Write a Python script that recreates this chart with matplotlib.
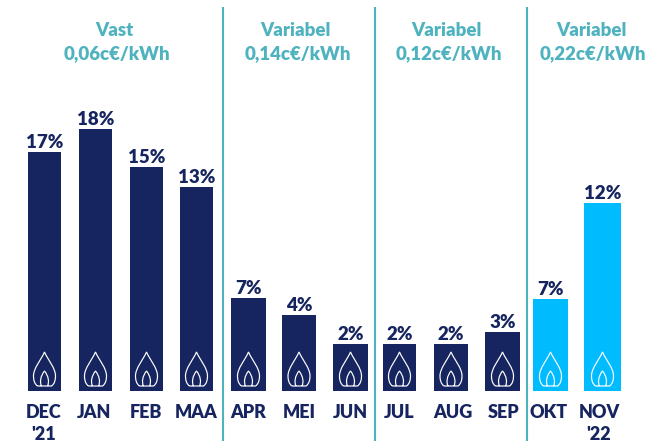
import matplotlib
matplotlib.use("Agg")
import matplotlib.pyplot as plt
from matplotlib.path import Path
from matplotlib.patches import PathPatch

months = ["DEC", "JAN", "FEB", "MAA", "APR", "MEI", "JUN", "JUL", "AUG", "SEP", "OKT", "NOV"]
years = {"DEC": "'21", "NOV": "'22"}
labels = ["17%", "18%", "15%", "13%", "7%", "4%", "2%", "2%", "2%", "3%", "7%", "12%"]
# bar heights as drawn (not proportional to the printed labels)
heights = [239, 262, 224, 204, 93, 76, 47, 47, 47, 59, 92, 188]
is_forecast = [False] * 10 + [True] * 2

tariff_types = ["Vast", "Variabel", "Variabel", "Variabel"]
tariff_prices = ["0,06c€/kWh", "0,14c€/kWh", "0,12c€/kWh", "0,22c€/kWh"]

# layout, in pixels of the picture
W, H = 659, 441
BASE = 391
bar_left = [28, 79, 130, 180, 231, 282, 333, 383, 434, 485, 533, 584]
bar_right = [61, 112, 163, 213, 266, 316, 368, 416, 468, 520, 568, 621]
tick_x = [44, 94.5, 146, 196.5, 248.5, 299.5, 350.5, 399.5, 453, 504, 549, 599]
type_x = [114.5, 295, 446, 591]
price_x = [117, 298, 449, 593]
dividers = [222.5, 374.5, 526.5]

NAVY = "#16255F"
CYAN = "#00BCFF"
TEAL = "#4FB3BF"

plt.rcParams["font.family"] = ["Lato", "DejaVu Sans"]

fig = plt.figure(figsize=(W / 100, H / 100), dpi=100)
ax = fig.add_axes([0, 0, 1, 1])
ax.set_xlim(0, W)
ax.set_ylim(BASE - H, BASE)
ax.axis("off")


def flame(cx):
    # little gas flame, y measured up from the bar foot
    verts = [
        (cx - 7, 5),
        (cx - 10, 7), (cx - 11, 11), (cx - 11, 15),
        (cx - 11, 23), (cx - 4, 30), (cx, 39),
        (cx + 4, 30), (cx + 11, 23), (cx + 11, 15),
        (cx + 11, 11), (cx + 10, 7), (cx + 7, 5),
        (cx - 7, 5),
        (cx - 3, 5),
        (cx - 5, 9), (cx - 4, 15), (cx, 20),
        (cx + 4, 15), (cx + 5, 9), (cx + 3, 5),
    ]
    codes = [Path.MOVETO] + [Path.CURVE4] * 12 + [Path.LINETO]
    codes += [Path.MOVETO] + [Path.CURVE4] * 6
    return PathPatch(Path(verts, codes), fc="none", ec="white", lw=0.85, zorder=3)


for i, month in enumerate(months):
    width = bar_right[i] - bar_left[i]
    cx = bar_left[i] + width / 2
    color = CYAN if is_forecast[i] else NAVY
    ax.bar(cx, heights[i], width=width, color=color, linewidth=0, zorder=2)
    ax.add_patch(flame(cx))
    ax.text(cx, heights[i] + 1, labels[i], ha="center", va="bottom", color=NAVY,
            fontsize=13.5, fontweight="heavy")
    ax.text(tick_x[i], BASE - 412, month, ha="center", va="center", color=NAVY,
            fontsize=13, fontweight="heavy")
    if month in years:
        ax.text(tick_x[i], BASE - 434, years[month], ha="center", va="center", color=NAVY,
                fontsize=13, fontweight="heavy")

for x in dividers:
    ax.plot([x, x], [BASE - H, BASE - 7], color=TEAL, lw=1.5, solid_capstyle="butt", zorder=1)

for x, kind in zip(type_x, tariff_types):
    ax.text(x, BASE - 31, kind, ha="center", va="center", color=TEAL, fontsize=13.4, fontweight="heavy")
for x, price in zip(price_x, tariff_prices):
    ax.text(x, BASE - 54, price, ha="center", va="center", color=TEAL, fontsize=13.4, fontweight="heavy")

fig.savefig("out.png", dpi=100)
